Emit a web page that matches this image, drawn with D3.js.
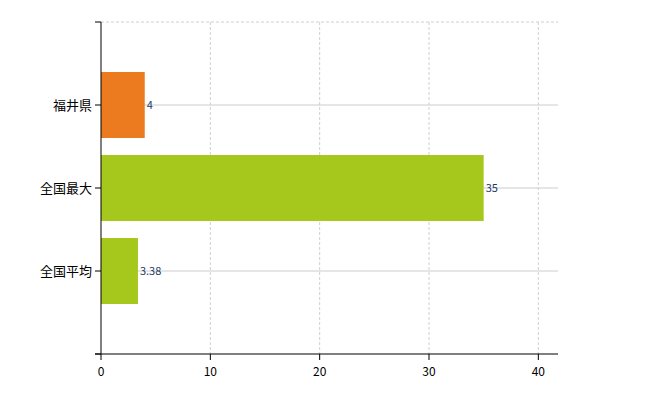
<!DOCTYPE html>
<html><head><meta charset="utf-8">
<script src="https://cdn.jsdelivr.net/npm/d3@7"></script>
<style>body{margin:0;background:#fff}</style></head>
<body><svg id="c" width="650" height="400"></svg>
<script>
const categories = ["福井県","全国最大","全国平均"];
const values = [4, 35, 3.38];
const labels = ["4","35","3.38"];
const barColors = ["#ec7a1e","#a6c81c","#a6c81c"];
const xTicks = [0,10,20,30,40];

const svg = d3.select("#c");
const x = d3.scaleLinear().domain([0,41.8]).range([101,558]);
const yTop = 22, yBot = 354;
const step = (yBot-yTop)/4;
const y = d3.scalePoint().domain(categories).range([yTop+step, yBot-step]);
const bh = 66;
const font = "'Noto Sans CJK JP', sans-serif";

// vertical grid
svg.selectAll(".vg").data(xTicks.slice(1)).enter().append("line")
 .attr("x1",d=>x(d)).attr("x2",d=>x(d)).attr("y1",yTop).attr("y2",yBot)
 .attr("stroke","#d0d0d0").attr("stroke-dasharray","3,2");
// top dashed
svg.append("line").attr("x1",101).attr("x2",558).attr("y1",yTop).attr("y2",yTop)
 .attr("stroke","#d0d0d0").attr("stroke-dasharray","3,2");
// horizontal grid at categories
svg.selectAll(".hg").data(categories).enter().append("line")
 .attr("x1",101).attr("x2",558).attr("y1",d=>y(d)).attr("y2",d=>y(d))
 .attr("stroke","#cccccc");

svg.selectAll(".bar").data(values).enter().append("rect")
 .attr("x",x(0)).attr("y",(d,i)=>y(categories[i])-bh/2)
 .attr("width",d=>x(d)-x(0)).attr("height",bh).attr("fill",(d,i)=>barColors[i]);

svg.selectAll(".lbl").data(values).enter().append("text")
 .attr("x",d=>x(d)+2).attr("y",(d,i)=>y(categories[i])+4)
 .attr("font-size",11).attr("font-family",font).attr("fill","#1a3a6a")
 .text((d,i)=>labels[i]);

// y axis
svg.append("line").attr("x1",101).attr("x2",101).attr("y1",yTop).attr("y2",yBot).attr("stroke","#000");
const yt = [yTop, ...categories.map(c=>y(c)), yBot];
svg.selectAll(".yt").data(yt).enter().append("line")
 .attr("x1",95).attr("x2",101).attr("y1",d=>d).attr("y2",d=>d).attr("stroke","#000");
svg.selectAll(".yl").data(categories).enter().append("text")
 .attr("x",92).attr("y",d=>y(d)+5).attr("text-anchor","end")
 .attr("font-size",13).attr("font-family",font).text(d=>d);

// x axis
svg.append("line").attr("x1",95).attr("x2",558).attr("y1",yBot).attr("y2",yBot).attr("stroke","#000");
svg.selectAll(".xt").data(xTicks).enter().append("line")
 .attr("x1",d=>x(d)).attr("x2",d=>x(d)).attr("y1",yBot).attr("y2",yBot+6).attr("stroke","#000");
svg.selectAll(".xl").data(xTicks).enter().append("text")
 .attr("x",d=>x(d)).attr("y",yBot+22).attr("text-anchor","middle")
 .attr("font-size",12).attr("font-family",font).text(d=>d);
</script></body></html>
